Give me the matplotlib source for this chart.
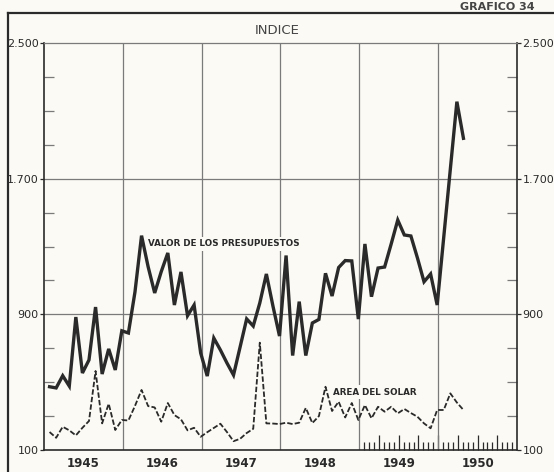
import matplotlib
matplotlib.use('Agg')
import matplotlib.pyplot as plt
from matplotlib.lines import Line2D
from matplotlib.ticker import FixedLocator

# Indice mensual 1945 - 1950 (lectura del grafico)
valor_presupuestos = [473, 466, 538, 477, 884, 554, 631, 943, 548, 696, 572, 803,      # 1945
                      790, 1032, 1364, 1181, 1026, 1152, 1262, 955, 1150, 892, 955, 672,  # 1946
                      536, 760, 690, 613, 542, 707, 873, 831, 967, 1138, 949, 772,     # 1947
                      1247, 657, 975, 657, 849, 870, 1142, 1008, 1176, 1217, 1215, 872,  # 1948
                      1315, 1004, 1173, 1179, 1315, 1456, 1368, 1362, 1232, 1092, 1138, 955,  # 1949
                      1355, 1755, 2154, 1938]                                          # 1950
area_solar = [206, 172, 237, 216, 186, 231, 271, 566, 257, 373, 218, 277,
              274, 360, 454, 359, 351, 267, 377, 306, 281, 216, 231, 178,
              205, 230, 255, 206, 152, 166, 200, 225, 733, 257, 256, 253,
              261, 253, 261, 348, 259, 300, 473, 330, 385, 292, 377, 277,
              365, 287, 355, 326, 355, 316, 342, 318, 296, 257, 228, 336,
              336, 434, 380, 336]
years = [1945, 1946, 1947, 1948, 1949, 1950]
y_ticks = [100, 900, 1700, 2500]
y_labels = ['100', '900', '1.700', '2.500']

bg = '#fbfaf4'
ink = '#2a2a2a'
grid = '#7a7a7a'

x_val = [1945 + (i + 0.85) / 12 for i in range(len(valor_presupuestos))]
x_area = [1945 + (i + 0.85) / 12 for i in range(len(area_solar))]

fig = plt.figure(figsize=(5.54, 4.72), dpi=100, facecolor=bg)
ax = fig.add_axes([0.0794, 0.0466, 0.8538, 0.8623], facecolor=bg)

ax.set_xlim(1945, 1951)
ax.set_ylim(100, 2500)

# rejilla
for yr in years[1:]:
    ax.axvline(yr, color=grid, lw=0.9, zorder=1)
for v in y_ticks[1:3]:
    ax.axhline(v, color=grid, lw=0.9, zorder=1)

ax.plot(x_val, valor_presupuestos, color=ink, lw=2.4, solid_joinstyle='miter', zorder=4)
ax.plot(x_area, area_solar, color=ink, lw=1.3, dashes=(3, 1.2), zorder=4)

lbl = dict(fontsize=6.3, fontweight='bold', color=ink, zorder=3,
           bbox=dict(facecolor=bg, edgecolor='none', pad=1.5))
ax.text(1946.32, 1315, 'VALOR DE LOS PRESUPUESTOS', va='center', ha='left', **lbl)
ax.text(1948.67, 442, 'AREA DEL SOLAR', va='center', ha='left', **lbl)

# ejes
for s in ['left', 'right', 'bottom']:
    ax.spines[s].set_color(ink)
    ax.spines[s].set_linewidth(1.2)
ax.spines['top'].set_color(grid)
ax.spines['top'].set_linewidth(0.9)

ax.set_yticks(y_ticks)
ax.set_yticklabels(y_labels, fontsize=8)
ax.yaxis.set_minor_locator(FixedLocator([v for v in range(300, 2500, 200) if v not in y_ticks]))
ax.tick_params(axis='y', which='major', left=True, right=True, labelleft=True, labelright=True,
               length=3, width=0.9, direction='out', pad=1, colors=ink)
ax.tick_params(axis='y', which='minor', left=True, right=True, length=7, width=0.9,
               direction='in', color=grid)

ax.set_xticks([yr + 0.5 for yr in years])
ax.set_xticklabels([str(yr) for yr in years], fontsize=8.5, fontweight='bold', color=ink)
ax.xaxis.set_minor_locator(FixedLocator([1949 + k / 16 for k in range(1, 32) if k % 4]))
ax.tick_params(axis='x', which='major', length=0, pad=5)
ax.tick_params(axis='x', which='minor', length=6, width=0.9, direction='in', color=ink)

sec = ax.secondary_xaxis('bottom')
sec.set_xticks([1949 + k / 4 for k in range(1, 8)])
sec.set_xticklabels([])
sec.tick_params(length=11, width=0.9, direction='in', color=ink)
sec.spines['bottom'].set_visible(False)

# titulos y marco
fig.text(0.5, 0.936, 'INDICE', ha='center', va='center', fontsize=9.5, color='#444444')
fig.text(0.83, 0.978, 'GRAFICO 34', ha='left', va='baseline', fontsize=8,
         fontweight='bold', color='#444444')
fig.add_artist(Line2D([0.0144, 1.0], [0.9725, 0.9725], color=ink, lw=1.6))
fig.add_artist(Line2D([0.0144, 0.0144], [0.0, 0.9725], color=ink, lw=1.6))

fig.savefig('out.png', dpi=100, facecolor=bg)
